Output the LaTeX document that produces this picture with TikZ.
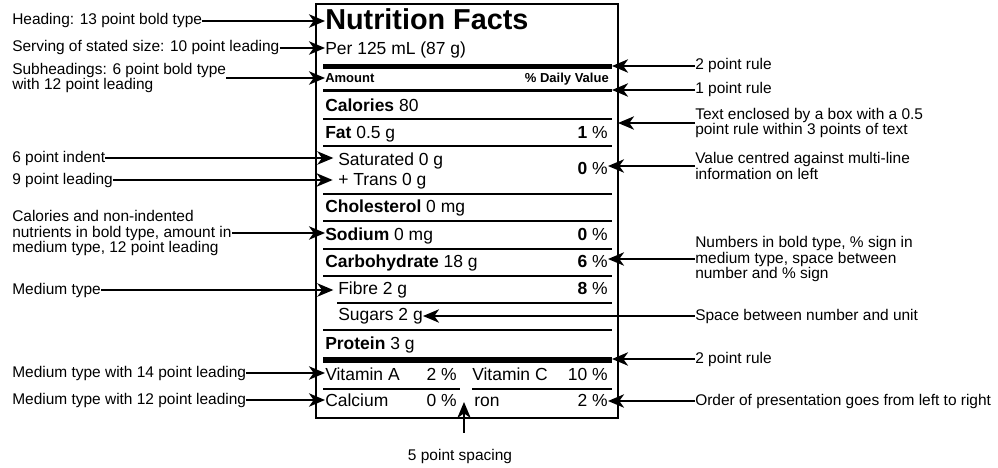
\documentclass[tikz,border=0pt]{standalone}
\usepackage{fontspec}
\setmainfont{Liberation Sans}
\usetikzlibrary{arrows.meta}
\begin{document}
\begin{tikzpicture}[x=0.75pt,y=-0.75pt,
  arr/.style={line width=1.5pt,-{Stealth[length=12pt,width=10pt,inset=3.5pt]}},
  note/.style={inner sep=0pt,font=\fontsize{11.6}{11.6}\selectfont,align=left,anchor=west},
  lbl/.style={inner sep=0pt,font=\fontsize{13.1}{15}\selectfont,anchor=base west},
  pct/.style={inner sep=0pt,font=\fontsize{13.1}{15}\selectfont,anchor=base east},
  sub/.style={inner sep=0pt,font=\fontsize{9.75}{11}\selectfont\bfseries,anchor=base west},
  rulethin/.style={line width=1.5pt},
  rulemid/.style={line width=2.3pt},
  rulethick/.style={line width=3.9pt}]

\useasboundingbox (0,0) rectangle (998,467);

% panel
\node[draw,line width=1.6pt,inner sep=0pt,outer sep=0pt,minimum width=226.5pt,minimum height=310.5pt,anchor=north west] (panel) at (316,4) {};

% label contents
\node[inner sep=0pt,anchor=base west,font=\fontsize{21.6}{24}\selectfont\bfseries] (title) at (325,30) {Nutrition Facts};
\node[lbl] (serv) at (325,55) {Per 125 mL (87 g)};
\coordinate (ruleA) at (612,66.7);
\draw[rulethick] (323,66.7) -- (ruleA);
\node[sub] (amount) at (325,82.5) {Amount};
\node[sub,anchor=base east] (dv) at (609,82.5) {\% Daily Value};
\coordinate (ruleB) at (612,90.7);
\draw[rulemid] (323,90.7) -- (ruleB);
\node[lbl] (cal) at (325,111) {\textbf{Calories} 80};
\draw[rulethin] (323,119) -- (612,119);
\node[lbl] (fat) at (325,138) {\textbf{Fat} 0.5 g};
\node[pct] (fatp) at (608,138) {\textbf{1} \%};
\draw[rulethin] (323,146) -- (612,146);
\node[lbl] (sat) at (338,165) {Saturated 0 g};
\node[lbl] (trans) at (338,185) {+ Trans 0 g};
\node[pct] (satp) at (608,174) {\textbf{0} \%};
\draw[rulethin] (323,193.5) -- (612,193.5);
\node[lbl] (chol) at (325,212.5) {\textbf{Cholesterol} 0 mg};
\draw[rulethin] (323,221) -- (612,221);
\node[lbl] (sod) at (325,240) {\textbf{Sodium} 0 mg};
\node[pct] (sodp) at (608,240) {\textbf{0} \%};
\draw[rulethin] (323,248.5) -- (612,248.5);
\node[lbl] (carb) at (325,267) {\textbf{Carbohydrate} 18 g};
\node[pct] (carbp) at (608,267) {\textbf{6} \%};
\draw[rulethin] (323,276) -- (612,276);
\node[lbl] (fib) at (338,294) {Fibre 2 g};
\node[pct] (fibp) at (608,294) {\textbf{8} \%};
\draw[rulethin] (337,302.5) -- (612,302.5);
\node[lbl] (sug) at (338,320.5) {Sugars 2 g};
\draw[rulethin] (323,330) -- (612,330);
\node[lbl] (prot) at (325,349) {\textbf{Protein} 3 g};
\coordinate (ruleC) at (612,360);
\draw[rulethick] (323,360) -- (ruleC);
\node[lbl] (vita) at (325,380) {Vitamin A};
\node[pct] (vitap) at (457,380) {2 \%};
\node[lbl] (vitc) at (472,380) {Vitamin C};
\node[pct] (vitcp) at (608,380) {10 \%};
\draw[rulethin] (323,388.5) -- (460,388.5);
\draw[rulethin] (472,388.5) -- (612,388.5);
\node[lbl] (calc) at (325,406) {Calcium};
\node[pct] (calcp) at (457,406) {0 \%};
\node[lbl] (iron) at (474,406) {ron};
\node[pct] (ironp) at (608,406) {2 \%};
\coordinate (gap) at (464,402);

% left annotations
\node[note] (hA) at (12,21) {Heading: 13 point bold type};
\draw[arr] (hA.east) -- (hA.east -| title.west);
\node[note] (hB) at (12,48) {Serving of stated size: 10 point leading};
\draw[arr] (hB.east) -- (hB.east -| serv.west);
\node[note] (hC) at (12,78) {Subheadings: 6 point bold type\\with 12 point leading};
\draw[arr] (hC.east) -- (hC.east -| amount.west);
\node[note] (hD) at (12,158) {6 point indent};
\draw[arr,shorten >=3.5pt] (hD.east) -- (hD.east -| sat.west);
\node[note] (hE) at (12,180) {9 point leading};
\draw[arr,shorten >=4pt] (hE.east) -- (hE.east -| trans.west);
\node[note] (hF) at (12,233) {Calories and non-indented\\nutrients in bold type, amount in\\medium type, 12 point leading};
\draw[arr] (hF.east) -- (hF.east -| sod.west);
\node[note] (hG) at (12,290) {Medium type};
\draw[arr,shorten >=3.5pt] (hG.east) -- (hG.east -| fib.west);
\node[note] (hH) at (12,373) {Medium type with 14 point leading};
\draw[arr] (hH.east) -- (hH.east -| vita.west);
\node[note] (hI) at (12,400) {Medium type with 12 point leading};
\draw[arr] (hI.east) -- (hI.east -| calc.west);

% right annotations
\node[note] (rA) at (695,66) {2 point rule};
\draw[arr] (rA.west) -- (rA.west -| ruleA);
\node[note] (rB) at (695,90) {1 point rule};
\draw[arr] (rB.west) -- (rB.west -| ruleB);
\node[note] (rC) at (695,123) {Text enclosed by a box with a 0.5\\point rule within 3 points of text};
\draw[arr] (rC.west) -- (rC.west -| panel.east);
\node[note] (rD) at (695,166) {Value centred against multi-line\\information on left};
\draw[arr] (rD.west) -- (rD.west -| satp.east);
\node[note] (rE) at (695,259) {Numbers in bold type, \% sign in\\medium type, space between\\number and \% sign};
\draw[arr] (rE.west) -- (rE.west -| carbp.east);
\node[note] (rF) at (695,316) {Space between number and unit};
\draw[arr] (rF.west) -- (rF.west -| sug.east);
\node[note] (rG) at (695,359) {2 point rule};
\draw[arr] (rG.west) -- (rG.west -| ruleC);
\node[note] (rH) at (695,401) {Order of presentation goes from left to right};
\draw[arr] (rH.west) -- (rH.west -| ironp.east);

% bottom
\node[note,anchor=base] (sp) at (460,460) {5 point spacing};
\draw[arr,shorten <=12pt] (sp.north -| gap) -- (gap);
\end{tikzpicture}
\end{document}
